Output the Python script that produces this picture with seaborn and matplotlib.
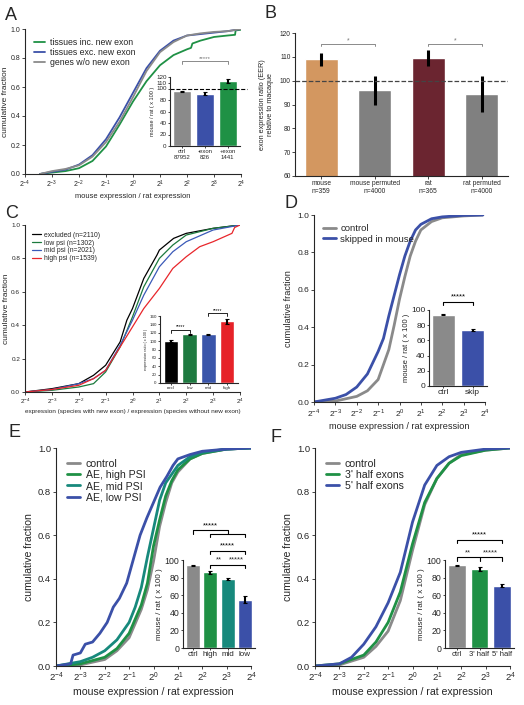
import numpy as np
import pandas as pd
import matplotlib
matplotlib.use('Agg')
import matplotlib.pyplot as plt
import seaborn as sns

# ---------------- data ----------------
# A: cumulative curves, x in log2(mouse / rat)
a_inc_x = [-3.45, -3.0, -2.5, -2.0, -1.5, -1.0, -0.5, 0.0, 0.5, 1.0, 1.5, 2.0, 2.15, 2.2, 2.5, 3.0, 3.5, 3.78, 3.8, 4.0]
a_inc_y = [0.0, 0.01, 0.02, 0.04, 0.09, 0.19, 0.34, 0.50, 0.64, 0.75, 0.82, 0.86, 0.87, 0.90, 0.92, 0.945, 0.955, 0.96, 0.99, 0.995]
a_exc_x = [-3.45, -3.0, -2.5, -2.0, -1.5, -1.0, -0.5, 0.0, 0.5, 1.0, 1.5, 2.0, 2.5, 3.0, 3.5, 4.0]
a_exc_y = [0.0, 0.015, 0.03, 0.065, 0.13, 0.24, 0.39, 0.56, 0.73, 0.85, 0.92, 0.955, 0.965, 0.975, 0.985, 1.0]
a_ctl_x = [-3.45, -3.0, -2.5, -2.0, -1.5, -1.0, -0.5, 0.0, 0.5, 1.0, 1.5, 2.0, 2.5, 3.0, 3.5, 4.0]
a_ctl_y = [0.0, 0.02, 0.035, 0.06, 0.12, 0.22, 0.36, 0.53, 0.71, 0.84, 0.91, 0.955, 0.97, 0.98, 0.985, 1.0]
a_bar_labels = ['ctrl\n87952', '-exon\n826', '+exon\n1441']
a_bar_values = [95, 91, 113]
a_bar_errors = [1, 2.5, 3]

# B: exon expression ratio relative to macaque
b_labels = ['mouse\nn=359', 'mouse permuted\nn=4000', 'rat\nn=365', 'rat permuted\nn=4000']
b_values = [109, 96, 109.5, 94.5]
b_errors = [2.8, 6, 3.3, 7.5]

# C: cumulative curves by psi group
c_excl_x = [-4.0, -3.0, -2.0, -1.45, -1.0, -0.46, -0.21, 0.0, 0.42, 0.91, 1.0, 1.53, 2.0, 3.0, 4.0]
c_excl_y = [0.0, 0.02, 0.05, 0.10, 0.16, 0.30, 0.43, 0.50, 0.68, 0.82, 0.85, 0.92, 0.95, 0.98, 1.0]
c_low_x = [-4.0, -3.0, -2.0, -1.45, -1.0, -0.46, 0.0, 0.42, 1.0, 1.5, 2.0, 3.0, 4.0]
c_low_y = [0.0, 0.01, 0.03, 0.05, 0.12, 0.27, 0.45, 0.63, 0.80, 0.88, 0.94, 0.98, 1.0]
c_mid_x = [-4.0, -3.0, -2.0, -1.45, -1.0, -0.46, 0.0, 0.42, 1.0, 1.5, 2.0, 3.0, 4.0]
c_mid_y = [0.0, 0.015, 0.05, 0.08, 0.13, 0.28, 0.43, 0.58, 0.75, 0.84, 0.90, 0.97, 1.0]
c_high_x = [-4.0, -3.0, -2.0, -1.45, -1.0, -0.46, 0.0, 0.42, 1.0, 1.5, 2.0, 2.5, 3.0, 3.7, 3.8, 4.0]
c_high_y = [0.0, 0.015, 0.04, 0.08, 0.13, 0.27, 0.39, 0.50, 0.62, 0.74, 0.81, 0.87, 0.90, 0.95, 0.985, 1.0]
c_bar_labels = ['excl', 'low', 'mid', 'high']
c_bar_values = [101, 116, 116, 148]
c_bar_errors = [2, 2, 2, 6]

# D: skipped in mouse
d_ctl_x = [-4.0, -3.0, -2.0, -1.5, -1.0, -0.5, -0.25, 0.0, 0.25, 0.5, 0.75, 1.0, 1.5, 2.0, 3.0, 3.9]
d_ctl_y = [0.0, 0.005, 0.03, 0.06, 0.12, 0.28, 0.41, 0.55, 0.67, 0.78, 0.86, 0.92, 0.965, 0.985, 0.995, 1.0]
d_skip_x = [-4.0, -3.5, -3.0, -2.5, -2.0, -1.5, -1.0, -0.75, -0.5, -0.25, 0.0, 0.25, 0.5, 0.75, 1.0, 1.5, 2.0, 3.0, 3.9]
d_skip_y = [0.0, 0.01, 0.02, 0.04, 0.08, 0.15, 0.27, 0.34, 0.46, 0.57, 0.68, 0.78, 0.86, 0.92, 0.95, 0.98, 0.99, 0.998, 1.0]
d_bar_labels = ['ctrl', 'skip']
d_bar_values = [94, 74]
d_bar_errors = [0.5, 1]

# E: alternative exons by PSI
e_ctl_x = [-4.0, -3.0, -2.0, -1.5, -1.0, -0.5, -0.25, 0.0, 0.25, 0.5, 0.75, 1.0, 1.5, 2.0, 3.0, 4.0]
e_ctl_y = [0.0, 0.005, 0.03, 0.07, 0.13, 0.26, 0.35, 0.48, 0.64, 0.75, 0.84, 0.89, 0.95, 0.975, 0.995, 1.0]
e_high_x = [-4.0, -3.0, -2.0, -1.5, -1.0, -0.5, -0.25, 0.0, 0.25, 0.5, 0.75, 1.0, 1.5, 2.0, 3.0, 4.0]
e_high_y = [0.0, 0.01, 0.04, 0.08, 0.15, 0.28, 0.38, 0.55, 0.67, 0.78, 0.85, 0.90, 0.95, 0.975, 0.995, 1.0]
e_mid_x = [-4.0, -3.0, -2.5, -2.0, -1.5, -1.0, -0.75, -0.5, -0.25, 0.0, 0.25, 0.5, 1.0, 1.5, 2.0, 3.0, 4.0]
e_mid_y = [0.0, 0.02, 0.04, 0.07, 0.12, 0.20, 0.27, 0.36, 0.50, 0.63, 0.76, 0.84, 0.92, 0.96, 0.98, 0.995, 1.0]
e_low_x = [-4.0, -3.4, -3.3, -3.0, -2.8, -2.5, -2.2, -1.9, -1.65, -1.4, -1.1, -0.8, -0.55, -0.27, 0.0, 0.27, 0.55, 0.8, 1.0, 1.5, 2.0, 3.0, 4.0]
e_low_y = [0.0, 0.01, 0.05, 0.06, 0.10, 0.11, 0.15, 0.20, 0.27, 0.31, 0.38, 0.50, 0.60, 0.68, 0.75, 0.82, 0.87, 0.92, 0.95, 0.97, 0.985, 0.995, 1.0]
e_bar_labels = ['ctrl', 'high', 'mid', 'low']
e_bar_values = [94, 86, 78, 55]
e_bar_errors = [0.5, 2, 1, 4]

# F: half exons
f_ctl_x = [-4.0, -3.0, -2.0, -1.5, -1.0, -0.5, 0.0, 0.5, 1.0, 1.5, 2.0, 3.0, 4.0]
f_ctl_y = [0.0, 0.005, 0.04, 0.09, 0.16, 0.30, 0.53, 0.74, 0.86, 0.93, 0.97, 0.99, 1.0]
f_3p_x = [-4.0, -3.0, -2.0, -1.5, -1.0, -0.5, 0.0, 0.5, 1.0, 1.5, 2.0, 3.0, 4.0]
f_3p_y = [0.0, 0.01, 0.05, 0.11, 0.20, 0.34, 0.56, 0.75, 0.86, 0.93, 0.965, 0.99, 1.0]
f_5p_x = [-4.0, -3.0, -2.5, -2.0, -1.5, -1.0, -0.5, 0.0, 0.5, 1.0, 1.5, 2.0, 3.0, 4.0]
f_5p_y = [0.0, 0.01, 0.04, 0.10, 0.18, 0.29, 0.43, 0.66, 0.83, 0.92, 0.96, 0.98, 0.995, 1.0]
f_bar_labels = ['ctrl', "3' half", "5' half"]
f_bar_values = [94, 90, 71]
f_bar_errors = [0.5, 2, 2]

# ---------------- style ----------------
sns.set_style('ticks')
plt.rcParams['font.family'] = ['Liberation Sans', 'DejaVu Sans']
plt.rcParams['mathtext.fontset'] = 'custom'
plt.rcParams['mathtext.rm'] = 'Liberation Sans'
plt.rcParams['axes.linewidth'] = 0.8
plt.rcParams['xtick.major.size'] = 2
plt.rcParams['ytick.major.size'] = 2
plt.rcParams['xtick.major.width'] = 0.6
plt.rcParams['ytick.major.width'] = 0.6
plt.rcParams['xtick.major.pad'] = 1.5
plt.rcParams['ytick.major.pad'] = 1.5

GRAY = '#8a8a8a'
GREEN = '#1f9145'
BLUE = '#3b50a8'
TEAL = '#17897c'

W, H = 524, 705
fig = plt.figure(figsize=(W / 100, H / 100), dpi=100)


def box(l, t, r, b):
    return fig.add_axes([l / W, 1 - b / H, (r - l) / W, (b - t) / H])


def cdf_panel(ax, curves, lw, fs, xlabel, leg_fs, lab_fs, ylab_fs=None):
    for name, xs, ys, color in curves:
        df = pd.DataFrame({'x': xs, 'y': ys})
        sns.lineplot(data=df, x='x', y='y', ax=ax, color=color, lw=lw,
                     label=name, estimator=None, sort=False)
    ax.set_xlim(-4, 4)
    ax.set_ylim(0, 1)
    ax.set_xticks(range(-4, 5))
    ax.set_xticklabels([f'$2^{{{k}}}$' for k in range(-4, 5)])
    ax.set_yticks(np.arange(0, 1.01, 0.2))
    ax.set_yticklabels([f'{v:.1f}' for v in np.arange(0, 1.01, 0.2)])
    ax.tick_params(labelsize=fs)
    ax.set_xlabel(xlabel, fontsize=lab_fs, labelpad=2)
    ax.set_ylabel('cumulative fraction', fontsize=ylab_fs or lab_fs, labelpad=3)
    ax.legend(loc='upper left', frameon=False, fontsize=leg_fs, handlelength=1.3,
              handletextpad=0.5, labelspacing=0.12, borderaxespad=0.6)
    sns.despine(ax=ax)


def inset_bars(ax, labels, values, errors, colors, ymax, yticks, fs, xfs, ylabel):
    sns.barplot(x=labels, y=values, hue=labels, palette=colors, ax=ax,
                legend=False, saturation=1, width=0.8)
    ax.errorbar(range(len(values)), values, yerr=errors, fmt='none',
                ecolor='black', elinewidth=1.5, capsize=1.5, capthick=0.8)
    ax.set_ylim(0, ymax)
    ax.set_yticks(yticks)
    ax.tick_params(axis='y', labelsize=fs, length=1.5, pad=1)
    ax.tick_params(axis='x', labelsize=xfs, length=1.5, pad=1)
    ax.set_ylabel(ylabel, fontsize=fs - 0.5, labelpad=1)
    ax.set_facecolor('none')
    sns.despine(ax=ax)


def bracket(ax, x1, x2, y, drop, text, fs, color='black', lw=0.8):
    ax.plot([x1, x1, x2, x2], [y - drop, y, y, y - drop], color=color, lw=lw, clip_on=False)
    if text:
        ax.text((x1 + x2) / 2, y + drop * 0.3, text, ha='center', va='bottom',
                fontsize=fs, color=color, clip_on=False)


# ---------------- A ----------------
axA = box(25, 29, 241, 174)
cdf_panel(axA, [('tissues inc. new exon', a_inc_x, a_inc_y, GREEN),
                ('tissues exc. new exon', a_exc_x, a_exc_y, BLUE),
                ('genes w/o new exon', a_ctl_x, a_ctl_y, GRAY)],
          lw=1.3, fs=5, xlabel='mouse expression / rat expression', leg_fs=6.3,
          lab_fs=5.4, ylab_fs=6)
axA.yaxis.set_label_coords(-0.075, 0.5)
axAi = box(170, 77, 240, 146)
inset_bars(axAi, a_bar_labels, a_bar_values, a_bar_errors, [GRAY, BLUE, GREEN],
           120, [0, 20, 40, 60, 80, 100, 110, 120], 4.5, 4.3, 'mouse / rat ( x 100 )')
axAi.axhline(100, color='black', ls='--', lw=0.8, xmax=1.1, clip_on=False)
bracket(axAi, 0, 2, 147, 5, '*****', 4.5, color='#777777', lw=0.6)

# ---------------- B ----------------
axB = box(295, 33, 508, 176)
sns.barplot(x=b_labels, y=b_values, hue=b_labels, ax=axB, legend=False, saturation=1,
            palette=['#d39760', '#808080', '#6b2530', '#808080'], width=0.62)
axB.errorbar(range(4), b_values, yerr=b_errors, fmt='none', ecolor='black', elinewidth=2.2)
axB.axhline(100, color='#444444', ls='--', lw=0.9)
axB.set_ylim(60, 120)
axB.set_yticks(range(60, 121, 10))
axB.tick_params(labelsize=4.8, pad=1)
axB.set_ylabel('exon expression ratio (EER)\nrelative to macaque', fontsize=5.2, labelpad=4)
sns.despine(ax=axB)
bracket(axB, 0, 1, 115.2, 0.7, '*', 5, color='#777777', lw=0.6)
bracket(axB, 2, 3, 115.2, 0.7, '*', 5, color='#777777', lw=0.6)

# ---------------- C ----------------
axC = box(25, 225, 240, 392)
cdf_panel(axC, [('excluded (n=2110)', c_excl_x, c_excl_y, 'black'),
                ('low psi (n=1302)', c_low_x, c_low_y, '#1b7a3d'),
                ('mid psi (n=2021)', c_mid_x, c_mid_y, '#3b5ab8'),
                ('high psi (n=1539)', c_high_x, c_high_y, '#e8262b')],
          lw=0.9, fs=4.6,
          xlabel='expression (species with new exon) / expression (species without new exon)',
          leg_fs=4.9, lab_fs=4.6, ylab_fs=6)
axC.yaxis.set_label_coords(-0.068, 0.5)
axCi = box(160, 316, 238, 383)
inset_bars(axCi, c_bar_labels, c_bar_values, c_bar_errors,
           ['black', '#1e7a40', '#3a55aa', '#e62228'], 160, range(0, 161, 20), 3.2, 3.2,
           'expression ratio ( x 100 )')
bracket(axCi, 0, 1, 126, 6, '*****', 3.5, lw=0.6)
bracket(axCi, 2, 3, 166, 6, '*****', 3.5, lw=0.6)

# ---------------- D ----------------
axD = box(314, 215, 485, 402)
cdf_panel(axD, [('control', d_ctl_x, d_ctl_y, GRAY),
                ('skipped in mouse', d_skip_x, d_skip_y, BLUE)],
          lw=2.0, fs=6, xlabel='mouse expression / rat expression', leg_fs=6.8, lab_fs=6.6)
axDi = box(429, 310, 487, 386)
inset_bars(axDi, d_bar_labels, d_bar_values, d_bar_errors, [GRAY, BLUE],
           100, range(0, 101, 20), 6, 6, 'mouse / rat ( x 100 )')
bracket(axDi, 0, 1, 111, 5, '*****', 5.5)

# ---------------- E ----------------
axE = box(56, 448, 251, 666)
cdf_panel(axE, [('control', e_ctl_x, e_ctl_y, GRAY),
                ('AE, high PSI', e_high_x, e_high_y, GREEN),
                ('AE, mid PSI', e_mid_x, e_mid_y, TEAL),
                ('AE, low PSI', e_low_x, e_low_y, BLUE)],
          lw=2.0, fs=6.8, xlabel='mouse expression / rat expression', leg_fs=7.6, lab_fs=7.6)
axEi = box(183, 560, 255, 648)
inset_bars(axEi, e_bar_labels, e_bar_values, e_bar_errors, [GRAY, GREEN, TEAL, BLUE],
           100, range(0, 101, 20), 6.3, 5.8, 'mouse / rat ( x 100 )')
axEi.plot([1, 1, 3, 3], [126, 130, 130, 126], color='black', lw=0.8, clip_on=False)
bracket(axEi, 0, 2, 134, 4, '*****', 5.5)
bracket(axEi, 1, 3, 110.6, 4, '*****', 5.5)
bracket(axEi, 1, 3, 94.5, 4, '', 5.5)
axEi.text(1.5, 96, '**', ha='center', va='bottom', fontsize=5.5)
axEi.text(2.5, 96, '*****', ha='center', va='bottom', fontsize=5.5)

# ---------------- F ----------------
axF = box(315, 448, 510, 666)
cdf_panel(axF, [('control', f_ctl_x, f_ctl_y, GRAY),
                ("3' half exons", f_3p_x, f_3p_y, GREEN),
                ("5' half exons", f_5p_x, f_5p_y, BLUE)],
          lw=2.0, fs=6.8, xlabel='mouse expression / rat expression', leg_fs=7.6, lab_fs=7.6)
axFi = box(445, 560, 514, 648)
inset_bars(axFi, f_bar_labels, f_bar_values, f_bar_errors, [GRAY, GREEN, BLUE],
           100, range(0, 101, 20), 6.3, 5.5, 'mouse / rat ( x 100 )')
bracket(axFi, 0, 2, 122.8, 4, '*****', 5.5)
bracket(axFi, 0, 2, 103, 4, '', 5.5)
axFi.plot([1, 1], [103, 99], color='black', lw=0.8, clip_on=False)
axFi.text(0.5, 104, '**', ha='center', va='bottom', fontsize=5.5)
axFi.text(1.5, 104, '*****', ha='center', va='bottom', fontsize=5.5)

# ---------------- panel letters ----------------
for letter, px, py in [('A', 5, 20), ('B', 264, 18), ('C', 5, 218),
                       ('D', 284, 208), ('E', 9, 437), ('F', 270, 442)]:
    fig.text(px / W, 1 - py / H, letter, fontsize=13, va='baseline', ha='left')

fig.savefig('out.png', dpi=100)
